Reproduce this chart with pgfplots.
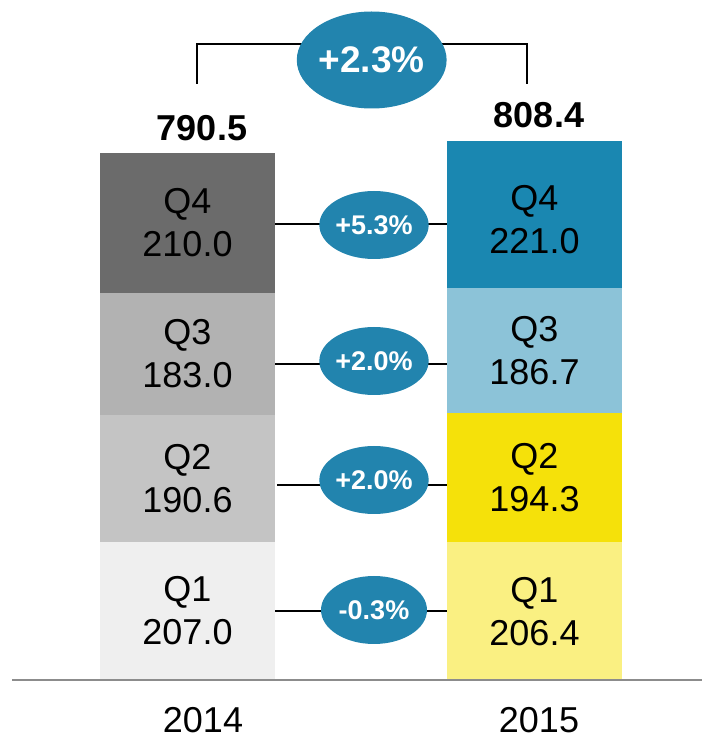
\documentclass[border=0pt]{standalone}
\usepackage{fontspec}
\setmainfont{Liberation Sans}
\usepackage{pgfplots}
\pgfplotsset{compat=1.18}
\usetikzlibrary{shapes.geometric}

% segment colours
\definecolor{qa1}{HTML}{EFEFEF}
\definecolor{qa2}{HTML}{C4C4C4}
\definecolor{qa3}{HTML}{B2B2B2}
\definecolor{qa4}{HTML}{6B6B6B}
\definecolor{qb1}{HTML}{FAF082}
\definecolor{qb2}{HTML}{F5E10A}
\definecolor{qb3}{HTML}{8CC3D8}
\definecolor{qb4}{HTML}{1A87B1}
\definecolor{bubble}{HTML}{2284AE}
\definecolor{axisgray}{HTML}{8C8C8C}

% one shared canvas for both layers
\pgfplotsset{canvas/.style={
  scale only axis, width=351pt, height=370pt,
  xmin=0, xmax=702, ymin=-90, ymax=1020,
  axis lines=none, ticks=none, clip=false}}

\tikzset{
  seg/.style={align=center, inner sep=0pt, anchor=center,
    font=\fontsize{18}{21.5}\selectfont},
  pill/.style={ellipse, fill=bubble, text=white, inner sep=0pt,
    minimum width=53pt, minimum height=34pt,
    font=\fontsize{13.5}{15}\selectfont\bfseries},
  conn/.style={black, line width=1pt, mark=none}
}

\begin{document}
\begin{tikzpicture}
% ---- stacked quarterly bars: 2014 at x=187.5, 2015 at x=534.5
\begin{axis}[canvas, ybar stacked, bar width=87.5pt]
\addplot[fill=qa1, draw=none] coordinates {(187.5,207.0) (534.5,0)};
\addplot[fill=qb1, draw=none] coordinates {(187.5,0) (534.5,206.4)};
\addplot[fill=qa2, draw=none] coordinates {(187.5,190.6) (534.5,0)};
\addplot[fill=qb2, draw=none] coordinates {(187.5,0) (534.5,194.3)};
\addplot[fill=qa3, draw=none] coordinates {(187.5,183.0) (534.5,0)};
\addplot[fill=qb3, draw=none] coordinates {(187.5,0) (534.5,186.7)};
\addplot[fill=qa4, draw=none] coordinates {(187.5,210.0) (534.5,0)};
\addplot[fill=qb4, draw=none] coordinates {(187.5,0) (534.5,221.0)};
\end{axis}

% ---- annotations layer
\begin{axis}[canvas]
% base line
\addplot[color=axisgray, line width=1pt, mark=none] coordinates {(12,0) (702,0)};
% quarter-to-quarter connectors
\addplot[conn] coordinates {(275,683.5) (447,683.5)};
\addplot[conn] coordinates {(275,473.5) (447,473.5)};
\addplot[conn] coordinates {(277,292.5) (447,292.5)};
\addplot[conn] coordinates {(275,104) (447,104)};
% year-total bracket
\addplot[conn] coordinates {(197,894) (197,954) (527,954) (527,894)};

% segment labels
\node[seg] at (axis cs:187.5,103.5) {Q1\\207.0};
\node[seg] at (axis cs:187.5,302.3) {Q2\\190.6};
\node[seg] at (axis cs:187.5,489.1) {Q3\\183.0};
\node[seg] at (axis cs:187.5,685.6) {Q4\\210.0};
\node[seg] at (axis cs:534.5,103.2) {Q1\\206.4};
\node[seg] at (axis cs:534.5,303.6) {Q2\\194.3};
\node[seg] at (axis cs:534.5,494.1) {Q3\\186.7};
\node[seg] at (axis cs:534.5,690.9) {Q4\\221.0};

% growth bubbles
\node[pill] at (axis cs:374,682.5) {+5.3\%};
\node[pill] at (axis cs:374,478.5) {+2.0\%};
\node[pill] at (axis cs:374,300) {+2.0\%};
\node[pill] at (axis cs:374,105) {-0.3\%};
\node[pill, minimum width=64.5pt, minimum height=48.5pt,
      font=\fontsize{18.5}{20}\selectfont\bfseries] at (axis cs:371.7,930) {+2.3\%};

% totals
\node[anchor=base, inner sep=0pt, font=\fontsize{18}{20}\selectfont\bfseries]
  at (axis cs:202,808.5) {790.5};
\node[anchor=base, inner sep=0pt, font=\fontsize{18}{20}\selectfont\bfseries]
  at (axis cs:539,828.5) {808.4};

% year labels
\node[anchor=base, inner sep=0pt, font=\fontsize{18}{20}\selectfont]
  at (axis cs:203,-78) {2014};
\node[anchor=base, inner sep=0pt, font=\fontsize{18}{20}\selectfont]
  at (axis cs:539,-78) {2015};
\end{axis}
\pgfresetboundingbox
\path[use as bounding box] (current axis.south west) rectangle (current axis.north east);
\end{tikzpicture}
\end{document}
